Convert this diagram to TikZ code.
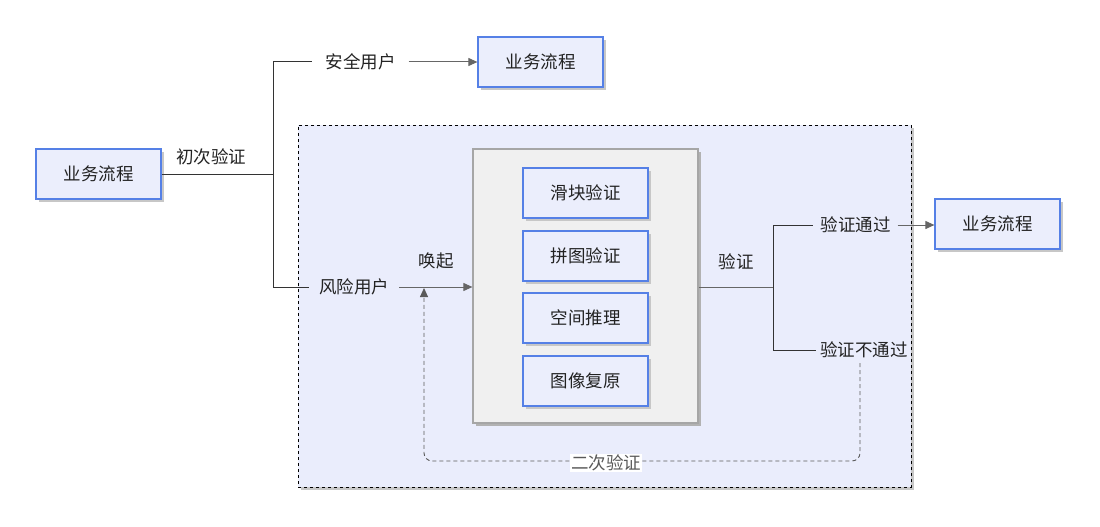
\documentclass[tikz,border=0pt]{standalone}
\usepackage{fontspec}
\setmainfont{Noto Sans CJK SC}
\usetikzlibrary{arrows.meta,shadows}
\definecolor{boxfill}{HTML}{EBEEFC}
\definecolor{boxline}{HTML}{5580E6}
\definecolor{regionfill}{HTML}{EAEDFC}
\definecolor{grayfill}{HTML}{F0F0F0}
\definecolor{grayline}{HTML}{A6A6A6}
\definecolor{lnc}{HTML}{666666}
\definecolor{dashc}{HTML}{5A5A5A}
\definecolor{treec}{HTML}{333333}
\definecolor{txt}{HTML}{222222}
\begin{document}
\begin{tikzpicture}[x=1pt,y=-1pt,
  font=\fontsize{17.5}{20}\selectfont,
  every node/.style={text=txt},
  bluebox/.style={draw=boxline,line width=1.2pt,fill=boxfill,minimum width=125pt,minimum height=50pt,inner sep=0pt,
    drop shadow={shadow xshift=3pt,shadow yshift=-3pt,fill=black!22,opacity=1}},
  lbl/.style={inner xsep=10pt,inner ysep=1pt},
  conn/.style={draw=treec,line width=1pt},
  arr/.style={draw=lnc,line width=1pt,-{Triangle[length=9pt,width=8pt]}},
  dashb/.style={draw=dashc,dash pattern=on 4pt off 3pt,line width=0.9pt}]
\useasboundingbox (0,0) rectangle (1100,527);
% region
\node[draw=black,dashed,line width=0.9pt,fill=regionfill,minimum width=613pt,minimum height=362pt,inner sep=0pt,
  drop shadow={shadow xshift=3pt,shadow yshift=-3pt,fill=black!22,opacity=1}] (region) at (604.5,306) {};
% gray box
\node[draw=grayline,line width=1.2pt,fill=grayfill,minimum width=225pt,minimum height=274pt,inner sep=0pt,
  drop shadow={shadow xshift=3pt,shadow yshift=-3pt,fill=black!30,opacity=1}] (gbox) at (585.5,286) {};
\node[bluebox] (s1) at (585.5,193) {滑块验证};
\node[bluebox] (s2) at (585.5,256) {拼图验证};
\node[bluebox] (s3) at (585.5,318) {空间推理};
\node[bluebox] (s4) at (585.5,381) {图像复原};
% business boxes
\node[bluebox] (b0) at (98.5,174) {业务流程};
\node[bluebox] (b1) at (540.5,62) {业务流程};
\node[bluebox] (b2) at (997.5,224) {业务流程};
% labels
\node[lbl,inner xsep=13pt] (safe) at (360.5,62) {安全用户};
\node[lbl] (risk) at (354,287) {风险用户};
\node[lbl] at (211,157) {初次验证};
\node[lbl] at (436,261) {唤起};
\node[lbl] at (736,262) {验证};
\node[lbl,inner xsep=7pt] (pass) at (855.5,225) {验证通过};
\node[lbl,inner xsep=4pt] (fail) at (864,350) {验证不通过};
\coordinate (j1) at (273,174);
\coordinate (j2) at (773,287);
% connectors
\draw[conn] (b0.east) -- (j1);
\draw[conn] (j1) |- (safe.west);
\draw[conn] (j1) |- (risk.west);
\draw[arr] (safe.east) -- (b1.west);
\draw[arr] (risk.east) -- (gbox.west |- risk.east);
\draw[conn,draw=lnc] (gbox.east |- j2) -- (j2);
\draw[conn] (j2) |- (pass.west);
\draw[conn] (j2) |- (fail.west);
\draw[arr] (pass.east) -- (b2.west |- pass.east);
\coordinate (fb) at (860,363);
\coordinate (rt) at (424,288);
\draw[dashb,rounded corners=8pt,-{Triangle[length=9pt,width=8pt]}] (fb) -- (860,461) -- (424,461) -- (rt);
\node[fill=white,inner sep=1pt,text=black!65] at (606,463) {二次验证};
\end{tikzpicture}
\end{document}
